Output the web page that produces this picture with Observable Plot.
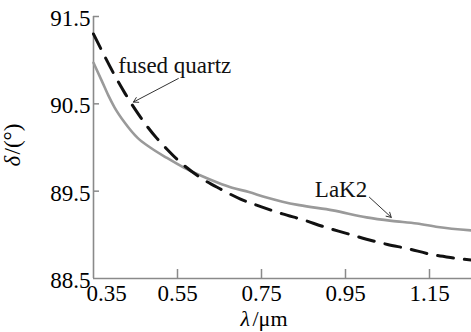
<!DOCTYPE html>
<html><head><meta charset="utf-8">
<script src="https://cdn.jsdelivr.net/npm/d3@7"></script>
<script src="https://cdn.jsdelivr.net/npm/@observablehq/plot@0.6"></script>
<style>body{margin:0;background:#fff} #chart svg{display:block}</style>
</head><body><div id="chart"></div>
<script>
// Fused quartz (black dashed)
const lambdaFQ = [0.35, 0.375, 0.40, 0.425, 0.45, 0.475, 0.50, 0.525, 0.55, 0.60, 0.65, 0.70, 0.75, 0.80, 0.85, 0.90, 0.95, 1.00, 1.05, 1.10, 1.15, 1.20, 1.25];
const deltaFQ  = [91.30, 91.06, 90.83, 90.62, 90.43, 90.26, 90.11, 89.98, 89.86, 89.67, 89.53, 89.41, 89.32, 89.24, 89.17, 89.09, 89.02, 88.95, 88.89, 88.84, 88.78, 88.74, 88.71];
// LaK2 (gray solid)
const lambdaLaK = [0.35, 0.37, 0.385, 0.40, 0.425, 0.455, 0.485, 0.525, 0.565, 0.605, 0.645, 0.68, 0.72, 0.76, 0.80, 0.84, 0.92, 1.00, 1.06, 1.12, 1.17, 1.25];
const deltaLaK  = [90.97, 90.76, 90.60, 90.46, 90.28, 90.11, 90.00, 89.88, 89.77, 89.68, 89.60, 89.54, 89.49, 89.43, 89.38, 89.34, 89.28, 89.20, 89.16, 89.13, 89.09, 89.05];

const xTicks = [0.35, 0.55, 0.75, 0.95, 1.15];
const yTicks = [88.5, 89.5, 90.5, 91.5];
const xDomain = [0.35, 1.25];
const yDomain = [88.5, 91.5];

// annotations
const annoText = ["fused quartz", "LaK2"];
const annoX = [0.409, 0.877];
const annoY = [90.85, 89.43];
const arrowX1 = [0.552, 1.007];
const arrowY1 = [90.79, 89.43];
const arrowX2 = [0.445, 1.059];
const arrowY2 = [90.52, 89.20];

const fq = lambdaFQ.map((x, i) => ({x, y: deltaFQ[i]}));
const lak = lambdaLaK.map((x, i) => ({x, y: deltaLaK[i]}));
const annos = annoText.map((t, i) => ({t, x: annoX[i], y: annoY[i]}));
const arrows = arrowX1.map((x1, i) => ({x1, y1: arrowY1[i], x2: arrowX2[i], y2: arrowY2[i]}));

const axisColor = "#8a8a8a";
const serif = "'Liberation Serif', 'DejaVu Serif', serif";
const fs = 23;

const chart = Plot.plot({
  width: 471, height: 332,
  marginLeft: 93, marginRight: 0, marginTop: 16, marginBottom: 54,
  x: {domain: xDomain},
  y: {domain: yDomain},
  style: {fontFamily: serif, fontSize: fs + "px", color: "#000", background: "#fff", overflow: "visible"},
  marks: [
    Plot.ruleX([xDomain[0]], {stroke: axisColor, strokeWidth: 1.6}),
    Plot.ruleY([yDomain[0]], {stroke: axisColor, strokeWidth: 1.6}),
    Plot.ruleX(xTicks.slice(1), {x: d => d, y1: yDomain[0], y2: yDomain[0], insetTop: -9, stroke: axisColor, strokeWidth: 1.5}),
    Plot.ruleY(yTicks.slice(1), {y: d => d, x1: xDomain[0], x2: xDomain[0], insetRight: -6, stroke: axisColor, strokeWidth: 1.5}),
    Plot.axisX({ticks: xTicks.slice(1), tickSize: 0, tickPadding: 6, tickFormat: d3.format(".2f"), fontSize: fs, fontFamily: serif, label: null}),
    Plot.axisX({ticks: [xTicks[0]], tickSize: 0, tickPadding: 6, dx: 13, tickFormat: d3.format(".2f"), fontSize: fs, fontFamily: serif, label: null}),
    Plot.axisY({ticks: yTicks, tickSize: 0, tickPadding: 3, dy: 2, tickFormat: d3.format(".1f"), fontSize: fs, fontFamily: serif, label: null}),
    Plot.line(lak, {x: "x", y: "y", stroke: "#9a9a9a", strokeWidth: 2.6, curve: "monotone-x"}),
    Plot.line(fq, {x: "x", y: "y", stroke: "#111", strokeWidth: 3, strokeDasharray: "16,11", curve: "monotone-x"}),
    Plot.text(annos, {x: "x", y: "y", text: "t", textAnchor: "start", lineAnchor: "bottom", fontSize: fs, fontFamily: serif, fill: "#111"}),
    Plot.arrow(arrows, {x1: "x1", y1: "y1", x2: "x2", y2: "y2", stroke: "#333", strokeWidth: 1, headLength: 8}),
    Plot.text(["δ"], {text: d => d, frameAnchor: "left", dx: -81, dy: 19, rotate: -90, textAnchor: "start", lineAnchor: "middle", fontStyle: "italic", fontSize: fs, fontFamily: serif}),
    Plot.text(["/(°)"], {text: d => d, frameAnchor: "left", dx: -81, dy: 7, rotate: -90, textAnchor: "start", lineAnchor: "middle", fontSize: fs, fontFamily: serif}),
    Plot.text(["λ"], {text: d => d, frameAnchor: "bottom", dx: -42, dy: 47, textAnchor: "start", lineAnchor: "bottom", fontStyle: "italic", fontSize: 22, fontFamily: serif}),
    Plot.text(["/μm"], {text: d => d, frameAnchor: "bottom", dx: -30, dy: 47, textAnchor: "start", lineAnchor: "bottom", fontSize: 22, fontFamily: serif})
  ]
});
document.getElementById("chart").append(chart);
</script>
</body></html>
